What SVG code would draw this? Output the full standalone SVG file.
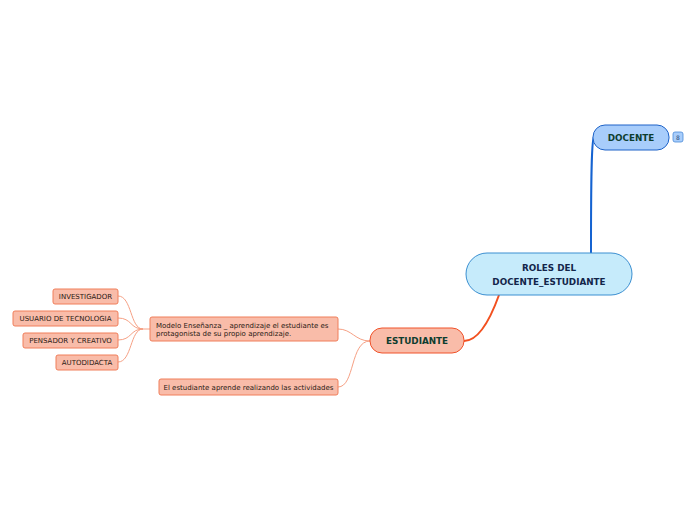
<svg xmlns="http://www.w3.org/2000/svg" width="696" height="520" viewBox="0 0 696 520">
<style>
text{font-family:"DejaVu Sans","Verdana",sans-serif}
.main{font-weight:bold;font-size:8.8px;fill:#0e3d2f;text-anchor:middle}
.rootT{font-weight:bold;font-size:8.8px;fill:#13254a;text-anchor:middle}
.sub{fill:#f9bca9;stroke:#f07e5a;stroke-width:1}
.subT{font-size:7px;fill:#2a1a14}
.leafT{font-size:7px;fill:#2a1a14;text-anchor:middle}
.thin{fill:none;stroke:#f6a084;stroke-width:1}
</style>
<rect width="696" height="520" fill="#ffffff"/>
<g id="connectors">
<path d="M591,253 C591,200 591,140 594,137" fill="none" stroke="#1563d1" stroke-width="2"/>
<path d="M499,295 C490,320 478,341 464,341" fill="none" stroke="#f2501f" stroke-width="2"/>
<path class="thin" d="M370,341 C355,341 352,329 338,329"/>
<path class="thin" d="M370,341 C350,341 355,387 338,387"/>
<path class="thin" d="M150,329 L143,329 C130,329 132,296 118,296"/>
<path class="thin" d="M143,329 C130,329 132,318 118,318"/>
<path class="thin" d="M143,329 C130,329 132,340 118,340"/>
<path class="thin" d="M143,329 C130,329 132,362 118,362"/>
</g>
<g id="root">
<rect x="466" y="253" width="166" height="42" rx="21" fill="#c6ebfb" stroke="#3b8fd1" stroke-width="1"/>
<text class="rootT" x="549" y="271">ROLES DEL</text>
<text class="rootT" x="549" y="285">DOCENTE_ESTUDIANTE</text>
</g>
<g id="docente">
<rect x="593" y="125" width="76" height="25" rx="12" fill="#a8cdfb" stroke="#1e63c8" stroke-width="1"/>
<text class="main" x="631" y="141">DOCENTE</text>
<rect x="673" y="132" width="10" height="10" rx="2" fill="#a8cdfb" stroke="#4a8ad8" stroke-width="0.8"/>
<text x="678" y="139.5" font-size="6" fill="#2a4a7a" text-anchor="middle">8</text>
</g>
<g id="estudiante">
<rect x="370" y="328" width="94" height="25" rx="12" fill="#f9bca9" stroke="#f0522a" stroke-width="1"/>
<text class="main" x="417" y="344">ESTUDIANTE</text>
</g>
<g id="modelo">
<rect class="sub" x="150" y="317" width="188" height="24" rx="2"/>
<text class="subT" x="156" y="328">Modelo Enseñanza _ aprendizaje el estudiante es</text>
<text class="subT" x="156" y="336">protagonista de su propio aprendizaje.</text>
</g>
<g id="realizando">
<rect class="sub" x="159" y="379" width="179" height="16" rx="2"/>
<text class="subT" x="248.5" y="389.5" text-anchor="middle">El estudiante aprende realizando las actividades</text>
</g>
<g id="investigador">
<rect class="sub" x="53" y="289" width="65" height="15" rx="2"/>
<text class="leafT" x="85.5" y="299">INVESTIGADOR</text>
</g>
<g id="usuario">
<rect class="sub" x="13" y="311" width="105" height="15" rx="2"/>
<text class="leafT" x="65.5" y="321">USUARIO DE TECNOLOGIA</text>
</g>
<g id="pensador">
<rect class="sub" x="23" y="333" width="95" height="15" rx="2"/>
<text class="leafT" x="70.5" y="343">PENSADOR Y CREATIVO</text>
</g>
<g id="autodidacta">
<rect class="sub" x="56" y="355" width="62" height="15" rx="2"/>
<text class="leafT" x="87" y="365">AUTODIDACTA</text>
</g>
</svg>
